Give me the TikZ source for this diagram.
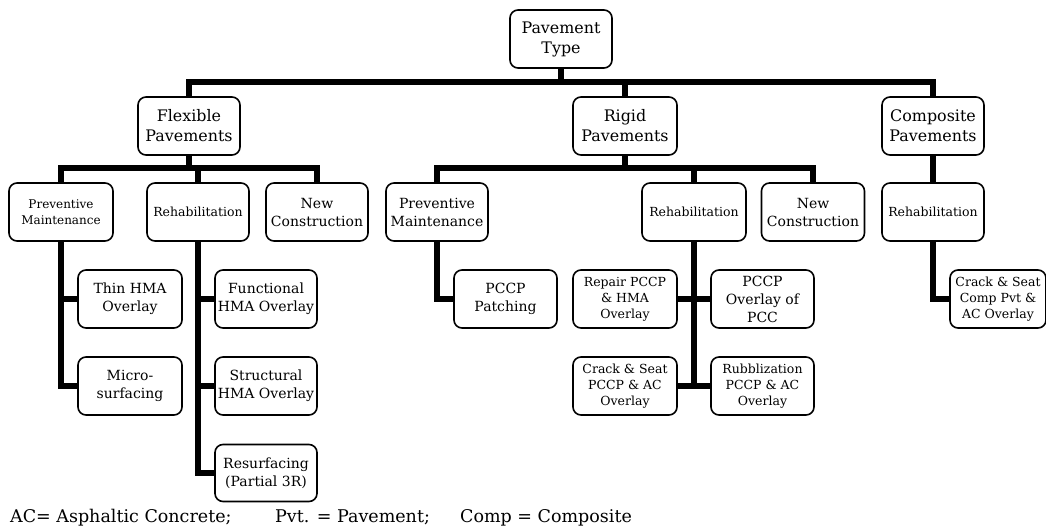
\documentclass[tikz,border=0pt]{standalone}
\usepackage{fontspec}
\setmainfont{DejaVu Serif}
\begin{document}
\begin{tikzpicture}[x=1pt,y=-1pt,
  box/.style={draw, line width=1.6pt, rounded corners=8pt, fill=white, align=center,
    inner sep=0pt, minimum height=58pt},
  big/.style={box, font=\fontsize{15.9}{20}\selectfont},
  mid/.style={box, font=\fontsize{14}{18}\selectfont},
  small/.style={box, font=\fontsize{12.5}{16}\selectfont},
  conn/.style={line width=6.5pt},
  foot/.style={anchor=base west, inner sep=0pt, font=\fontsize{17.5}{20}\selectfont}]
\useasboundingbox (0,0) rectangle (1046,528);
\coordinate (barT) at (0,82);
\coordinate (barF) at (0,168);
% level 0/1
\node[big, minimum width=102pt] (pt) at (561,39) {Pavement\\Type};
\node[big, minimum width=102pt] (fp) at (189,126) {Flexible\\Pavements};
\node[big, minimum width=104pt] (rp) at (625,126) {Rigid\\Pavements};
\node[big, minimum width=102pt] (cp) at (933,126) {Composite\\Pavements};
% level 2
\node[small, font=\fontsize{12}{15.5}\selectfont, minimum width=104pt] (fpm) at (61,212) {Preventive\\Maintenance};
\node[small, minimum width=102pt] (frh) at (198,212) {Rehabilitation};
\node[mid, minimum width=102pt] (fnc) at (317,212) {New\\Construction};
\node[mid, minimum width=102pt] (rpm) at (437,212) {Preventive\\Maintenance};
\node[small, minimum width=104pt] (rrh) at (694,212) {Rehabilitation};
\node[mid, minimum width=103pt] (rnc) at (813,212) {New\\Construction};
\node[small, minimum width=102pt] (crh) at (933,212) {Rehabilitation};
% level 3
\node[mid, minimum width=104pt] (thin) at (130,299) {Thin HMA\\Overlay};
\node[mid, minimum width=104pt] (micro) at (130,386) {Micro-\\surfacing};
\node[mid, minimum width=102pt] (func) at (266,299) {Functional\\HMA Overlay};
\node[mid, minimum width=102pt] (struc) at (266,386) {Structural\\HMA Overlay};
\node[mid, minimum width=102pt, minimum height=57pt] (resurf) at (266,473) {Resurfacing\\(Partial 3R)};
\node[mid, minimum width=103pt] (patch) at (505.5,299) {PCCP\\Patching};
\node[small, minimum width=104pt] (repair) at (625,299) {Repair PCCP\\\& HMA\\Overlay};
\node[small, minimum width=104pt] (crackr) at (625,386) {Crack \& Seat\\PCCP \& AC\\Overlay};
\node[mid, minimum width=103pt] (overl) at (762.5,299) {PCCP\\Overlay of\\PCC};
\node[small, minimum width=103pt] (rubb) at (762.5,386) {Rubblization\\PCCP \& AC\\Overlay};
\node[small, minimum width=96pt] (cs) at (998,299) {Crack \& Seat\\Comp Pvt \&\\AC Overlay};
% connectors level 0-1
\draw[conn] (pt.south) -- (pt.south |- barT);
\draw[conn] (fp.north) -- (fp.north |- barT) -- (cp.north |- barT) -- (cp.north);
\draw[conn] (rp.north) -- (rp.north |- barT);
% flexible
\draw[conn] (fp.south) -- (fp.south |- barF);
\draw[conn] (fpm.north) -- (fpm.north |- barF) -- (fnc.north |- barF) -- (fnc.north);
\draw[conn] (frh.north) -- (frh.north |- barF);
% rigid
\draw[conn] (rp.south) -- (rp.south |- barF);
\draw[conn] (rpm.north) -- (rpm.north |- barF) -- (rnc.north |- barF) -- (rnc.north);
\draw[conn] (rrh.north) -- (rrh.north |- barF);
% composite
\draw[conn] (cp.south) -- (crh.north);
% level 3
\draw[conn] (fpm.south) |- (micro.west);
\draw[conn] (fpm.south |- thin.west) -- (thin.west);
\draw[conn] (frh.south) |- (resurf.west);
\draw[conn] (frh.south |- func.west) -- (func.west);
\draw[conn] (frh.south |- struc.west) -- (struc.west);
\draw[conn] (rpm.south) |- (patch.west);
\draw[conn] (rrh.south) -- (rrh.south |- crackr.east);
\draw[conn] (repair.east) -- (overl.west);
\draw[conn] (crackr.east) -- (rubb.west);
\draw[conn] (crh.south) |- (cs.west);
% footnote
\node[foot] (f1) at (10,522) {AC= Asphaltic Concrete;};
\node[foot] (f2) at (275,522) {Pvt. = Pavement;};
\node[foot] (f3) at (460,522) {Comp = Composite};
\end{tikzpicture}
\end{document}
